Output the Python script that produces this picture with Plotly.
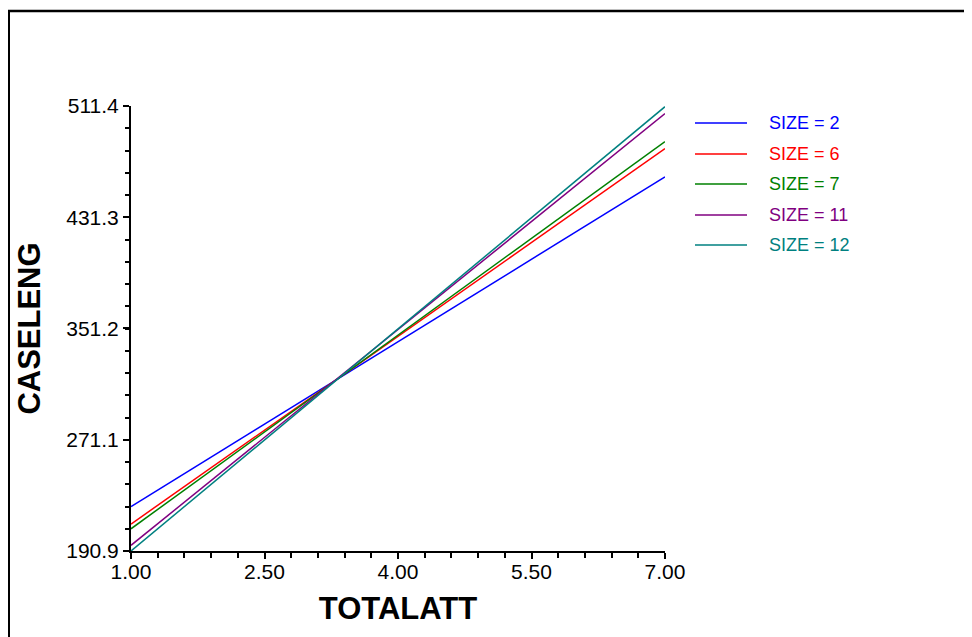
import plotly.graph_objects as go

# ---- data ----
x_ends = [1.0, 7.0]
size_labels = ["SIZE = 2", "SIZE = 6", "SIZE = 7", "SIZE = 11", "SIZE = 12"]
y_size2 = [222.9, 460.4]
y_size6 = [210.3, 480.7]
y_size7 = [206.9, 485.8]
y_size11 = [195.0, 505.9]
y_size12 = [190.9, 510.9]
colors = ["#0000FF", "#FF0000", "#008000", "#800080", "#008080"]

y_tick_vals = [190.9, 271.1, 351.2, 431.3, 511.4]
y_tick_text = ["190.9", "271.1", "351.2", "431.3", "511.4"]
x_tick_vals = [1.0, 2.5, 4.0, 5.5, 7.0]
x_tick_text = ["1.00", "2.50", "4.00", "5.50", "7.00"]

series = [y_size2, y_size6, y_size7, y_size11, y_size12]

# page body has an 8px margin; positions below are in page pixels
OFF = 8
W, H = 972, 637
PL, PR, PT, PB = 131, 665, 106, 551   # plot area in page pixels
ML, MT = PL - OFF, PT - OFF
MR = W - (PR - OFF)
MB = H - (PB - OFF)
PW, PH = PR - PL, PB - PT


def px2paper_x(px):
    return (px - PL) / PW


def px2paper_y(py):
    return (PB - py) / PH


fig = go.Figure()
for name, ys, c in zip(size_labels, series, colors):
    fig.add_trace(go.Scatter(x=x_ends, y=ys, mode="lines", name=name,
                             line=dict(color=c, width=1.5), showlegend=False))

ymin, ymax = y_tick_vals[0], y_tick_vals[-1]
ystep = (ymax - ymin) / 20
y_minor = [ymin + i * ystep for i in range(21)]

font_family = "Liberation Sans, Arial, sans-serif"

fig.update_layout(
    width=W, height=H,
    margin=dict(l=ML, r=MR, t=MT, b=MB),
    paper_bgcolor="white", plot_bgcolor="white",
    font=dict(family=font_family, color="black", size=21),
    xaxis=dict(range=[1, 7], tickvals=x_tick_vals, ticktext=x_tick_text,
               showgrid=False, zeroline=False, showline=True, linecolor="black",
               linewidth=2, ticks="outside", ticklen=6, tickwidth=1.5, tickcolor="black",
               minor=dict(tickvals=[1 + 0.3 * i for i in range(21)], ticks="outside",
                          ticklen=5, tickwidth=1.5, tickcolor="black", showgrid=False),
               tickfont=dict(size=21), ticklabelstandoff=-5,
               title=dict(text="<b>TOTALATT</b>", font=dict(size=31), standoff=15)),
    yaxis=dict(range=[ymin, ymax], tickvals=y_tick_vals, ticktext=y_tick_text,
               showgrid=False, zeroline=False, showline=True, linecolor="black",
               linewidth=2, ticks="outside", ticklen=6, tickwidth=1.5, tickcolor="black",
               minor=dict(tickvals=y_minor, ticks="outside", ticklen=4, tickwidth=1.5,
                          tickcolor="black", showgrid=False),
               tickfont=dict(size=21),
               title=dict(text="<b>CASELENG</b>", font=dict(size=31), standoff=16)),
)

# manual legend
legend_rows = [123, 154, 184, 215, 245]
for name, c, ry in zip(size_labels, colors, legend_rows):
    fig.add_shape(type="line", xref="paper", yref="paper",
                  x0=px2paper_x(695), x1=px2paper_x(747),
                  y0=px2paper_y(ry), y1=px2paper_y(ry),
                  line=dict(color=c, width=1.5))
    fig.add_annotation(xref="paper", yref="paper", x=px2paper_x(767), y=px2paper_y(ry),
                       xanchor="left", yanchor="middle", text=name, showarrow=False,
                       font=dict(color=c, size=18, family=font_family))

# outer frame (top and left edges)
fig.add_shape(type="line", xref="paper", yref="paper",
              x0=px2paper_x(8), x1=px2paper_x(990), y0=px2paper_y(11), y1=px2paper_y(11),
              line=dict(color="black", width=2.5))
fig.add_shape(type="line", xref="paper", yref="paper",
              x0=px2paper_x(9), x1=px2paper_x(9), y0=px2paper_y(10), y1=px2paper_y(660),
              line=dict(color="black", width=2))

fig.write_html("out.html")
